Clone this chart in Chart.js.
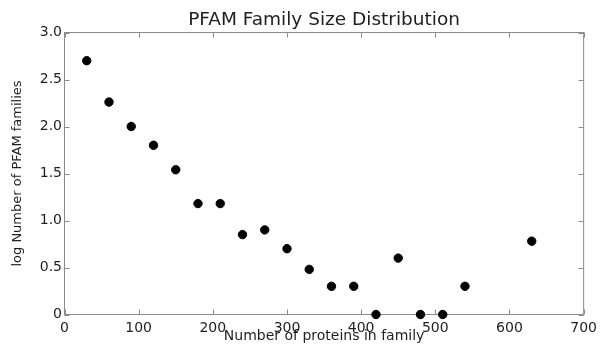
<!DOCTYPE html>
<html>
<head>
<meta charset="utf-8">
<title>PFAM Family Size Distribution</title>
<script src="https://cdn.jsdelivr.net/npm/chart.js@4.4.0/dist/chart.umd.min.js"></script>
<style>
  html, body { margin: 0; padding: 0; background: #fff; }
  #wrap { width: 602px; height: 346px; }
</style>
</head>
<body>
<div id="wrap"><canvas id="sizeChart"></canvas></div>
<script>
// family size bins (proteins per family) and log10 of how many families fall in each
const familySizes = [30, 60, 90, 120, 150, 180, 210, 240, 270, 300, 330, 360, 390, 420, 450, 480, 510, 540, 630];
const logFamilyCounts = [2.70, 2.26, 2.00, 1.80, 1.54, 1.18, 1.18, 0.85, 0.90, 0.70, 0.48, 0.30, 0.30, 0, 0.60, 0, 0, 0.30, 0.78];

const xTickLabels = ["0", "100", "200", "300", "400", "500", "600", "700"];
const yTickLabels = ["0", "0.5", "1.0", "1.5", "2.0", "2.5", "3.0"];

const axisGray = "#8a8a8a";
const textColor = "#1e1e1e";
const fontFamily = "'DejaVu Sans', sans-serif";

// box around the plot with short ticks pointing inwards on every side
const boxTicks = {
  id: "boxTicks",
  beforeDatasetsDraw(chart) {
    const { ctx, chartArea: a, scales } = chart;
    const len = 5;
    ctx.save();
    ctx.strokeStyle = axisGray;
    ctx.lineWidth = 1;
    ctx.strokeRect(a.left, a.top, a.right - a.left, a.bottom - a.top);
    ctx.beginPath();
    scales.x.ticks.forEach((t) => {
      const px = Math.round(scales.x.getPixelForValue(t.value)) + 0.5;
      ctx.moveTo(px, a.bottom);
      ctx.lineTo(px, a.bottom - len);
      ctx.moveTo(px, a.top);
      ctx.lineTo(px, a.top + len);
    });
    scales.y.ticks.forEach((t) => {
      const py = Math.round(scales.y.getPixelForValue(t.value)) + 0.5;
      ctx.moveTo(a.left, py);
      ctx.lineTo(a.left + len, py);
      ctx.moveTo(a.right, py);
      ctx.lineTo(a.right - len, py);
    });
    ctx.stroke();
    ctx.restore();
  },
};

const ctx = document.getElementById("sizeChart").getContext("2d");
new Chart(ctx, {
  type: "scatter",
  data: {
    datasets: [
      {
        label: "families",
        data: familySizes.map((x, i) => ({ x: x, y: logFamilyCounts[i] })),
        backgroundColor: "#000",
        borderColor: "#000",
        pointRadius: 4.2,
        pointHoverRadius: 4.2,
        clip: false,
      },
    ],
  },
  options: {
    responsive: true,
    maintainAspectRatio: false,
    animation: false,
    layout: { padding: { left: 0, right: 10.5, top: 0, bottom: 0 } },
    plugins: {
      legend: { display: false },
      tooltip: { enabled: false },
      title: {
        display: true,
        text: "PFAM Family Size Distribution",
        fullSize: false,
        color: textColor,
        font: { family: fontFamily, size: 18.5, weight: "normal", lineHeight: 1.2 },
        padding: { top: 9, bottom: 1.3 },
      },
    },
    scales: {
      x: {
        type: "linear",
        min: 0,
        max: 700,
        afterFit: (scale) => { scale.height = 31.5; },
        grid: { display: false, drawTicks: false },
        border: { display: false },
        ticks: {
          stepSize: 100,
          padding: 5,
          color: textColor,
          maxRotation: 0,
          font: { family: fontFamily, size: 14 },
          callback: (v, i) => xTickLabels[i],
        },
        title: {
          display: true,
          text: "Number of proteins in family",
          color: textColor,
          font: { family: fontFamily, size: 14, lineHeight: 1.2 },
          padding: { top: 0, bottom: 1.6 },
        },
      },
      y: {
        min: 0,
        max: 3,
        afterFit: (scale) => { scale.width = 64.5; },
        grid: { display: false, drawTicks: false },
        border: { display: false },
        ticks: {
          stepSize: 0.5,
          padding: 2.5,
          color: textColor,
          font: { family: fontFamily, size: 14 },
          callback: (v, i) => yTickLabels[i],
        },
        title: {
          display: true,
          text: "log Number of PFAM families",
          color: textColor,
          font: { family: fontFamily, size: 13, lineHeight: 1.2 },
          padding: { top: 10.2, bottom: 0 },
        },
      },
    },
  },
  plugins: [boxTicks],
});
</script>
</body>
</html>
